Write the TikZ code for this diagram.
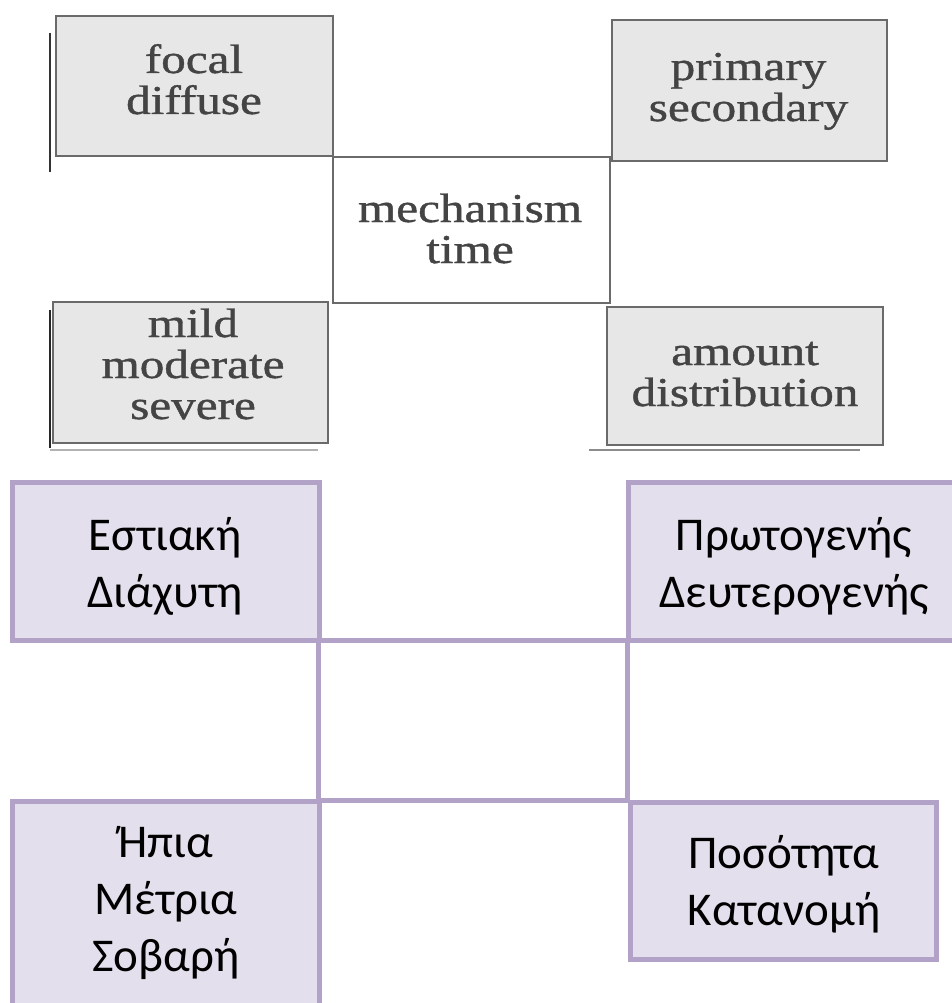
\documentclass[tikz,border=0pt]{standalone}
\usepackage{fontspec}
\setmainfont{Liberation Serif}
\newfontfamily\scanfont{Liberation Serif}[FakeBold=0.9]
\newfontfamily\greekfont{Carlito}
\newcommand\linestack[1]{\vtop{\lineskiplimit=-\maxdimen\lineskip=0pt\halign{\hfil##\hfil\cr#1\crcr}}}
\newcommand\widestack[1]{\scalebox{1.2}[1]{\linestack{#1}}}
\definecolor{scanfill}{HTML}{E7E7E7}
\definecolor{scanline}{HTML}{6A6A6A}
\definecolor{scantext}{HTML}{444444}
\definecolor{lavfill}{HTML}{E4DFEC}
\definecolor{lavline}{HTML}{B3A2C7}
\tikzset{
  graybox/.style={draw=scanline, fill=scanfill, line width=2.5pt, inner sep=0pt, rectangle},
  grayline/.style={draw=scanline, line width=2pt},
  engtext/.style={anchor=base, inner sep=0pt, text=scantext, font=\scanfont\fontsize{41}{41}\selectfont},
  lavbox/.style={draw=lavline, fill=lavfill, line width=5pt, inner sep=0pt, rectangle},
  lavline/.style={draw=lavline, line width=5pt},
  grtext/.style={anchor=base, inner sep=0pt, text=black, font=\greekfont\fontsize{47}{57}\selectfont},
}
\begin{document}
\begin{tikzpicture}[x=1pt, y=-1pt]
\useasboundingbox[fill=white] (0,0) rectangle (952,1003);
% ---------- scanned (English) part ----------
\node[graybox, minimum width=277pt, minimum height=140pt] (etl) at (194.5,86) {};
\node[graybox, minimum width=275pt, minimum height=141pt] (etr) at (749.5,90.5) {};
\node[graybox, minimum width=275pt, minimum height=141pt] (ebl) at (190.5,372.5) {};
\node[graybox, minimum width=276pt, minimum height=138pt] (ebr) at (745,376) {};
\coordinate (ea) at (333,157);
\coordinate (eb) at (610,157);
\coordinate (ec) at (610,303);
\coordinate (ed) at (333,303);
\draw[grayline] (ea) -- (eb) -- (ec) -- (ed) -- cycle;
% stray scan marks
\coordinate (s1) at (50,33); \coordinate (s2) at (50,172);
\coordinate (s3) at (50,310); \coordinate (s4) at (50,448);
\coordinate (s5) at (50,450); \coordinate (s6) at (318,450);
\coordinate (s7) at (589,450); \coordinate (s8) at (860,450);
\draw[draw=black!80, line width=1.5pt] (s1) -- (s2);
\draw[draw=black!85, line width=2.5pt] (s3) -- (s4);
\draw[draw=black!30, line width=1.2pt] (s5) -- (s6);
\draw[draw=black!45, line width=1.5pt] (s7) -- (s8);
\node[engtext] (t1) at (194,73) {\widestack{focal\cr diffuse}};
\node[engtext] (t2) at (748.5,80) {\widestack{primary\cr secondary}};
\node[engtext] (t3) at (470,222) {\widestack{mechanism\cr time}};
\node[engtext] (t4) at (193,337) {\widestack{mild\cr moderate\cr severe}};
\node[engtext] (t5) at (745,365) {\widestack{amount\cr distribution}};
% ---------- Greek part ----------
\node[lavbox, minimum width=307pt, minimum height=158pt] (gtl) at (166,561.5) {};
\node[lavbox, minimum width=331pt, minimum height=158pt] (gtr) at (794,561.5) {};
\node[lavbox, minimum width=307pt, minimum height=210pt] (gbl) at (166,906.5) {};
\node[lavbox, minimum width=306pt, minimum height=157pt] (gbr) at (783.5,881) {};
\coordinate (ga) at (318,640.5);
\coordinate (gb) at (627.5,640.5);
\coordinate (gc) at (627.5,800);
\coordinate (gd) at (318,800);
\draw[lavline] (ga) -- (gb) -- (gc) -- (gd) -- cycle;
\node[grtext] (g1) at (165,550) {\linestack{Εστιακή\cr Διάχυτη}};
\node[grtext] (g2) at (794,550) {\linestack{Πρωτογενής\cr Δευτερογενής}};
\node[grtext] (g3) at (166,857) {\linestack{Ήπια\cr Μέτρια\cr Σοβαρή}};
\node[grtext] (g4) at (784,868) {\linestack{Ποσότητα\cr Κατανομή}};
\end{tikzpicture}
\end{document}
